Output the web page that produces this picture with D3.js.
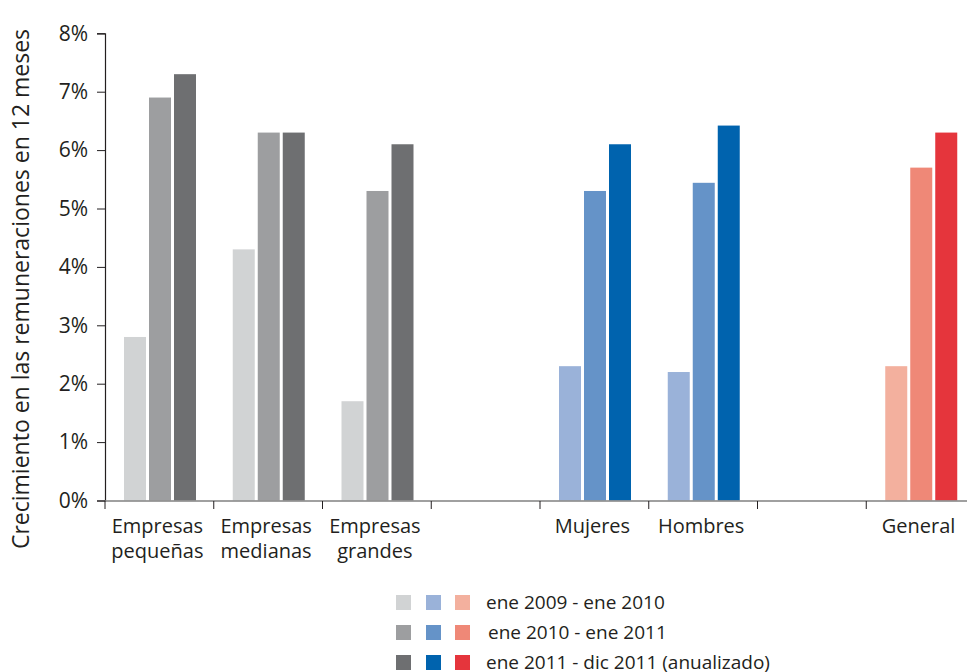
<!DOCTYPE html>
<html><head><meta charset="utf-8">
<script src="https://cdn.jsdelivr.net/npm/d3@7"></script>
<style>body{margin:0;background:#fff}svg{display:block;font-family:"Open Sans",sans-serif}</style>
</head><body><svg id="c" width="967" height="672"></svg>
<script>
const categories = ["Empresas pequeñas","Empresas medianas","Empresas grandes","","Mujeres","Hombres"," ","General"];
const series1 = [2.8, 4.3, 1.7, null, 2.3, 2.2, null, 2.3]; // ene 2009 - ene 2010
const series2 = [6.9, 6.3, 5.3, null, 5.3, 5.44, null, 5.7]; // ene 2010 - ene 2011
const series3 = [7.3, 6.3, 6.1, null, 6.1, 6.42, null, 6.3]; // ene 2011 - dic 2011
const seriesNames = ["ene 2009 - ene 2010","ene 2010 - ene 2011","ene 2011 - dic 2011 (anualizado)"];
const groupOf = ["grey","grey","grey",null,"blue","blue",null,"red"];
const palette = {
  grey: ["#d1d3d4","#9d9ea0","#6e6f71"],
  blue: ["#9ab2d9","#6593c8","#0063ae"],
  red:  ["#f3b09e","#ef8877","#e5353c"]
};
const yTicks = [0,1,2,3,4,5,6,7,8];

const svg = d3.select("#c");
const x = d3.scaleBand().domain(categories).range([105, 975]).paddingInner(0).paddingOuter(0);
const y = d3.scaleLinear().domain([0, 8]).range([500.5, 33.3]);
const sub = d3.scaleBand().domain([0,1,2]).range([19, 19+72]).paddingInner(0.12);

const all = [series1, series2, series3];
categories.forEach((c, i) => {
  if (!groupOf[i]) return;
  all.forEach((s, k) => {
    const v = s[i];
    svg.append("rect")
      .attr("x", x(c) + sub(k))
      .attr("y", y(v))
      .attr("width", sub.bandwidth())
      .attr("height", y(0) - y(v))
      .attr("fill", palette[groupOf[i]][k]);
  });
});

// y axis
const yAxis = svg.append("g").attr("transform", "translate(105,0)")
  .call(d3.axisLeft(y).tickValues(yTicks).tickFormat(d => d + "%").tickSizeOuter(0).tickSize(8).tickPadding(9));
yAxis.select(".domain").attr("stroke", "#231f20").attr("stroke-width", 1.2);
yAxis.selectAll(".tick line").attr("stroke", "#231f20");
yAxis.selectAll("text").attr("font-size", 21).attr("fill", "#231f20").attr("font-family", "Open Sans");

// x axis
const xg = svg.append("g").attr("transform", "translate(0,501)");
xg.append("line").attr("x1", 105).attr("x2", 975).attr("y1", 0).attr("y2", 0)
  .attr("stroke", "#808080").attr("stroke-width", 1.5);
categories.forEach((c) => {
  xg.append("line").attr("x1", x(c)).attr("x2", x(c)).attr("y1", 0).attr("y2", 8)
    .attr("stroke", "#231f20").attr("stroke-width", 1);
});
categories.forEach((c) => {
  const words = c.trim().split(" ");
  if (!words[0]) return;
  words.forEach((w, j) => {
    xg.append("text").attr("text-anchor", "middle")
      .attr("font-size", 20).attr("fill", "#231f20")
      .attr("x", x(c) + x.bandwidth()/2 - 2).attr("y", 32 + j*25).text(w);
  });
});

// y title
svg.append("text")
  .attr("transform", "translate(29,289) rotate(-90)")
  .attr("text-anchor", "middle").attr("font-size", 23).attr("fill", "#231f20")
  .text("Crecimiento en las remuneraciones en 12 meses");

// legend
const lg = svg.append("g");
const groups = ["grey","blue","red"];
const colX = [396, 426, 455];
seriesNames.forEach((name, k) => {
  const ry = 595 + k*30;
  groups.forEach((g, j) => {
    lg.append("rect").attr("x", colX[j]).attr("y", ry).attr("width", 15).attr("height", 15)
      .attr("fill", palette[g][k]);
  });
  lg.append("text").attr("x", k === 1 ? 488 : 486).attr("y", ry + 14)
    .attr("font-size", 19).attr("fill", "#231f20").text(name);
});
</script></body></html>
